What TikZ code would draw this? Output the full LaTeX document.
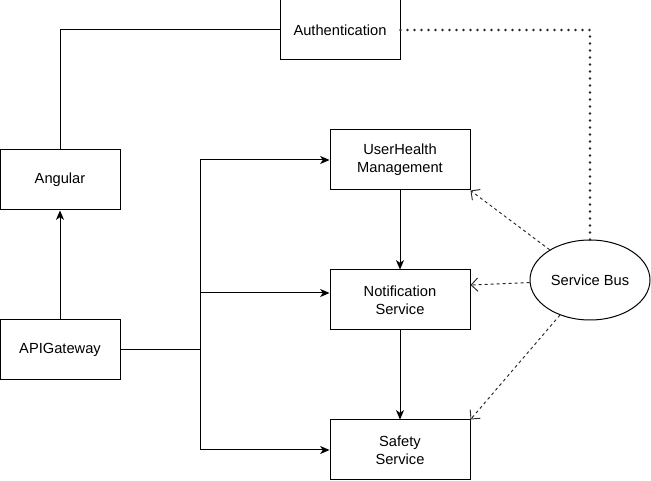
\documentclass[tikz,border=0pt]{standalone}
\usepackage{fontspec}
\setmainfont{Liberation Sans}
\usetikzlibrary{positioning,arrows.meta,shapes.geometric}

\begin{document}
\begin{tikzpicture}[
            x=0.75pt, y=-0.75pt,
            every node/.append style = {font=\fontsize{11}{13.5}\selectfont, align=center},
            box/.style = {draw, line width=0.75pt, minimum width=90pt, minimum height=45pt, inner sep=0pt},
            widebox/.style = {box, minimum width=105pt},
            bus/.style = {draw, ellipse, line width=0.75pt, minimum width=90pt, minimum height=60pt, inner sep=0pt},
            link/.style = {line width=0.75pt},
            flow/.style = {link, -{Stealth[length=7pt,width=6pt,inset=2pt]}},
            notice/.style = {line width=0.7pt, black!85, dash pattern=on 2.25pt off 2.25pt, -{Straight Barb[length=5pt,width=10pt]}},
            authlink/.style = {line width=1.9pt, line cap=round, dash pattern=on 0pt off 5.25pt, black!85}]
            \useasboundingbox (0,0) rectangle (651,481);
            % nodes
            \node[box] (auth) at (340,30) {Authentication};
            \node[box] (angular) at (60,180) {Angular};
            \node[box] (gateway) at (60,350) {APIGateway};
            \node[widebox] (userhealth) at (400,160) {UserHealth\\Management};
            \node[widebox] (notify) at (400,300) {Notification\\Service};
            \node[widebox] (safety) at (400,450) {Safety\\Service};
            \node[bus] (bus) at (590,280) {Service Bus};
            \coordinate (split) at (200,350);
            % connectors
            \draw[link] (angular.north) |- (auth.west);
            \draw[flow] (gateway) -- (angular);
            \draw[link] (gateway.east) -- (split);
            \draw[flow] (split) |- (userhealth.west);
            \draw[flow] (split) |- ([yshift=5.25pt]notify.west);
            \draw[flow] (split) |- (safety.west);
            \draw[flow] (userhealth) -- (notify);
            \draw[flow] (notify) -- (safety);
            \draw[authlink] (auth.east) -| (bus.north);
            \draw[notice] (bus) -- (userhealth.south east);
            \draw[notice] (bus) -- ([yshift=11.25pt]notify.east);
            \draw[notice] (bus) -- (safety.north east);
        \end{tikzpicture}
\end{document}
